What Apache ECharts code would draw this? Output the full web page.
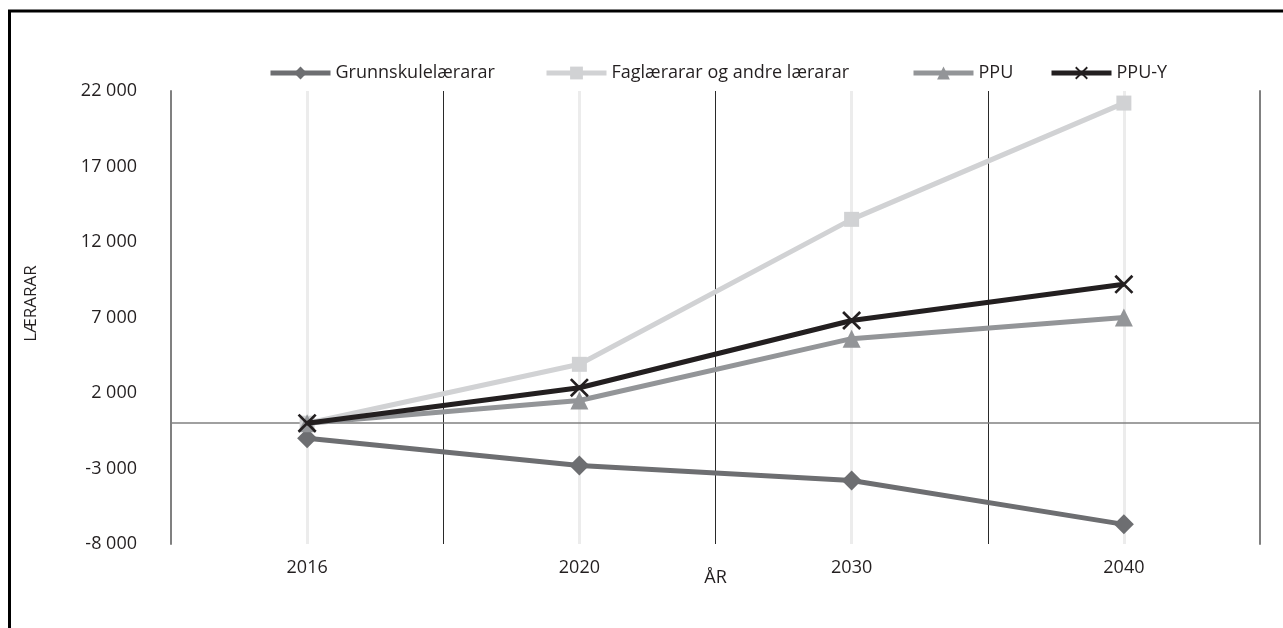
<!DOCTYPE html>
<html>
<head>
<meta charset="utf-8">
<script src="https://cdn.jsdelivr.net/npm/echarts@6/dist/echarts.min.js"></script>
<style>
html,body{margin:0;padding:0;background:#fff;}
#c{width:1283px;height:628px;}
</style>
</head>
<body>
<div id="c"></div>
<script>
var categories = ['2016', '2020', '2030', '2040'];
var grunnskule = [-1000, -2800, -3800, -6700];
var faglaerarar = [0, 3900, 13500, 21200];
var ppu = [0, 1500, 5600, 7000];
var ppuY = [0, 2350, 6800, 9200];
var yTicksMin = -8000, yTicksMax = 22000, yTickStep = 5000;

var FONT = '"Open Sans", sans-serif';
var TXT = '#231f20';
var xMark = 'path://M0,1 L1,0 L10,9 L9,10 Z M9,0 L10,1 L1,10 L0,9 Z';

function fmt(v) {
  var s = Math.abs(v).toString();
  var out = s.replace(/\B(?=(\d{3})+(?!\d))/g, ' ');
  return (v < 0 ? '-' : '') + out;
}

function legendAt(name, left) {
  return {
    data: [name], left: left, top: 64, orient: 'horizontal', padding: 0,
    itemWidth: 60, itemHeight: 16, itemGap: 0,
    lineStyle: {width: 5},
    textStyle: {fontFamily: FONT, fontSize: 18, color: TXT},
    selectedMode: false
  };
}

var chart = echarts.init(document.getElementById('c'), null, {renderer: 'canvas'});
chart.setOption({
  animation: false,
  backgroundColor: '#fff',
  graphic: [{
    type: 'rect', silent: true,
    shape: {x: 9.5, y: 11, width: 1500, height: 1000},
    style: {fill: 'none', stroke: '#000', lineWidth: 3}
  }],
  legend: [
    legendAt('Grunnskulelærarar', 268),
    legendAt('Faglærarar og andre lærarar', 544),
    legendAt('PPU', 911),
    legendAt('PPU-Y', 1049)
  ],
  grid: {left: 171, right: 23, top: 91, bottom: 84, containLabel: false},
  xAxis: {
    type: 'category', data: categories, boundaryGap: true,
    name: 'ÅR', nameLocation: 'middle', nameGap: 25, nameMoveOverlap: false,
    nameTextStyle: {fontFamily: FONT, fontSize: 18, color: TXT},
    axisLine: {show: false, onZero: false},
    axisTick: {show: false},
    axisLabel: {fontFamily: FONT, fontSize: 18, color: TXT, margin: 15},
    splitLine: {show: true, lineStyle: {color: ['#808080', '#2a2a2a', '#2a2a2a', '#2a2a2a', '#808080'], width: 1}}
  },
  yAxis: [{
    type: 'value', min: yTicksMin, max: yTicksMax, interval: yTickStep,
    name: 'LÆRARAR', nameLocation: 'middle', nameGap: 131, nameRotate: 90, nameMoveOverlap: false,
    nameTextStyle: {fontFamily: FONT, fontSize: 17, color: TXT, padding: [0, 0, 0, 28]},
    axisLine: {show: true, lineStyle: {color: '#808080', width: 2}},
    axisTick: {show: false},
    axisLabel: {fontFamily: FONT, fontSize: 18, color: TXT, margin: 34, formatter: fmt},
    splitLine: {show: false}
  }, {
    type: 'value', min: yTicksMin, max: yTicksMax, interval: yTickStep, position: 'right',
    axisLine: {show: true, lineStyle: {color: '#808080', width: 2}},
    axisTick: {show: false}, axisLabel: {show: false}, splitLine: {show: false}
  }],
  series: [
    {
      type: 'line', name: '_guides', data: [], z: 1, silent: true,
      markLine: {
        z: 1, silent: true, symbol: 'none', label: {show: false}, animation: false,
        data: categories.map(function (c) {
          return {xAxis: c, lineStyle: {color: '#ececec', width: 3, type: 'solid'}};
        }).concat([{yAxis: 0, lineStyle: {color: '#808080', width: 1.5, type: 'solid'}}])
      }
    },
    {
      type: 'line', name: 'Grunnskulelærarar', data: grunnskule, z: 10,
      symbol: 'diamond', symbolSize: 20,
      lineStyle: {color: '#6d6e71', width: 5}, itemStyle: {color: '#6d6e71', borderWidth: 0}
    },
    {
      type: 'line', name: 'Faglærarar og andre lærarar', data: faglaerarar, z: 10,
      symbol: 'rect', symbolSize: 15,
      lineStyle: {color: '#d1d2d4', width: 5}, itemStyle: {color: '#d1d2d4', borderWidth: 0}
    },
    {
      type: 'line', name: 'PPU', data: ppu, z: 11,
      symbol: 'triangle', symbolSize: 18,
      lineStyle: {color: '#939598', width: 5}, itemStyle: {color: '#939598', borderWidth: 0}
    },
    {
      type: 'line', name: 'PPU-Y', data: ppuY, z: 12,
      symbol: xMark, symbolSize: 19,
      lineStyle: {color: '#231f20', width: 5}, itemStyle: {color: '#231f20', borderWidth: 0}
    }
  ]
});
</script>
</body>
</html>
